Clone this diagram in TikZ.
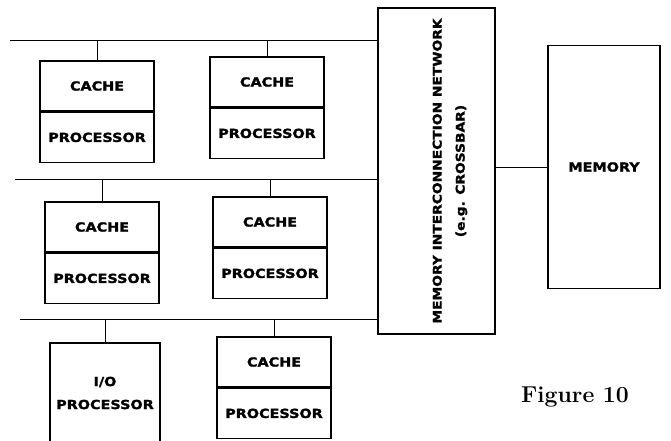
\documentclass[tikz,border=0pt]{standalone}
\usepackage{fontspec}
\usepackage{tikz}
\usetikzlibrary{positioning}
\newfontfamily\labelfont[FakeStretch=1.15,BoldFeatures={FakeBold=1.6}]{DejaVu Sans}

\begin{document}
\begin{tikzpicture}[
        x=1pt,y=-1pt,
        blk/.style={draw=black,line width=1.4pt,minimum width=114pt,minimum height=50pt,
                    inner sep=0pt,align=center,font=\labelfont\bfseries\fontsize{12.5}{14}\selectfont},
        bus/.style={draw=black,line width=1pt},
        tall/.style={blk,minimum width=117pt,minimum height=326pt}
      ]
        \useasboundingbox (0,0) rectangle (671,440);
        % shared buses on the left
        \coordinate (bus1) at (10,40);
        \coordinate (bus2) at (15,179);
        \coordinate (bus3) at (20,319);
        % processor boards
        \node[blk] (c11) at (97,86) {CACHE};
        \node[blk,below=0pt of c11] (p11) {PROCESSOR};
        \node[blk] (c12) at (267,82) {CACHE};
        \node[blk,below=0pt of c12] (p12) {PROCESSOR};
        \node[blk] (c21) at (102,227) {CACHE};
        \node[blk,below=0pt of c21] (p21) {PROCESSOR};
        \node[blk] (c22) at (270,222) {CACHE};
        \node[blk,below=0pt of c22] (p22) {PROCESSOR};
        \node[blk,minimum width=110pt,minimum height=100pt] (io) at (105,393) {I/O\\[9pt]PROCESSOR};
        \node[blk] (c32) at (274,362) {CACHE};
        \node[blk,below=0pt of c32] (p32) {PROCESSOR};
        % network and memory
        \node[tall,font=\labelfont\bfseries\fontsize{12}{23}\selectfont] (net) at (436.5,171)
          {\hspace*{24pt}\rotatebox{90}{\begin{tabular}{@{}c@{}}MEMORY INTERCONNECTION NETWORK\\(e.g. CROSSBAR)\end{tabular}}};
        \node[blk,minimum width=112pt,minimum height=243pt] (mem) at (604,167) {MEMORY};
        \node[font=\fontsize{23}{26}\selectfont\bfseries] (fig) at (575,397) {Figure 10};
        % connectors
        \draw[bus] (bus1) -- (bus1 -| net.west);
        \draw[bus] (bus2) -- (bus2 -| net.west);
        \draw[bus] (bus3) -- (bus3 -| net.west);
        \draw[bus] (c11.north) -- (c11.north |- bus1);
        \draw[bus] (c12.north) -- (c12.north |- bus1);
        \draw[bus] (c21.north) -- (c21.north |- bus2);
        \draw[bus] (c22.north) -- (c22.north |- bus2);
        \draw[bus] (io.north) -- (io.north |- bus3);
        \draw[bus] (c32.north) -- (c32.north |- bus3);
        \draw[bus] (net.east |- mem.west) -- (mem.west);
      \end{tikzpicture}
\end{document}
